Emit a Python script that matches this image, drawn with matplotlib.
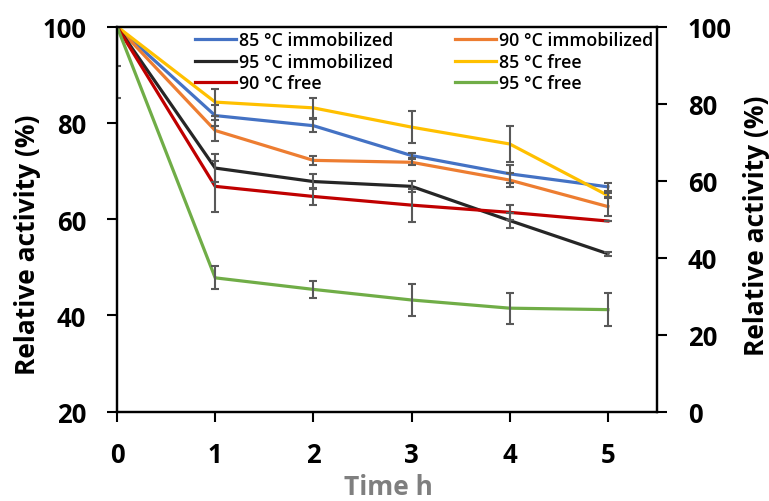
import matplotlib
matplotlib.use("Agg")
import matplotlib.pyplot as plt
from matplotlib.font_manager import FontProperties

plt.rcParams['font.family'] = ['Open Sans', 'DejaVu Sans']

time_h = [0, 1, 2, 3, 4, 5]
labels = ["85 °C immobilized", "90 °C immobilized", "95 °C immobilized",
          "85 °C free", "90 °C free", "95 °C free"]
colors = ["#4472C4", "#ED7D31", "#262626", "#FFC000", "#C00000", "#70AD47"]

imm85 = [100, 81.5, 79.4, 73.2, 69.4, 66.7]
imm90 = [100, 78.4, 72.2, 71.8, 68.1, 62.6]
imm95 = [100, 70.6, 67.8, 66.8, 59.7, 52.8]
free85 = [100, 84.3, 83.1, 79.1, 75.6, 64.9]
free90 = [100, 66.8, 64.7, 62.9, 61.4, 59.6]
free95 = [100, 47.8, 45.4, 43.2, 41.5, 41.2]

err_imm85 = [0, 2.1, 1.4, 0.6, 1.9, 0.9]
err_imm90 = [0, 2.2, 1.0, 0.6, 1.4, 2.0]
err_imm95 = [0, 2.9, 1.5, 1.2, 1.5, 0.4]
err_free85 = [8.3, 2.8, 2.1, 3.3, 3.7, 0.5]
err_free90 = [14.8, 5.3, 1.7, 3.4, 1.5, 0.0]
err_free95 = [0, 2.4, 1.8, 3.3, 3.2, 3.4]

series = [imm85, imm90, imm95, free85, free90, free95]
errors = [err_imm85, err_imm90, err_imm95, err_free85, err_free90, err_free95]

W, H = 769, 502
fig = plt.figure(figsize=(W / 100, H / 100), dpi=100)
ax = fig.add_axes([117 / W, 1 - 412.7 / H, (657 - 117) / W, (412.7 - 27.5) / H])

handles = []
for ys, es, c, lab in zip(series, errors, colors, labels):
    ln, = ax.plot(time_h, ys, color=c, lw=2.3, label=lab, zorder=3)
    ax.errorbar(time_h, ys, yerr=es, fmt='none', ecolor='#595959', elinewidth=1.5,
                capsize=3.2, capthick=1.5, zorder=4)
    handles.append(ln)

ax.set_xlim(0, 5.5)
ax.set_ylim(20, 100)
ax.set_xticks([0, 1, 2, 3, 4, 5])
ax.set_yticks([20, 40, 60, 80, 100])

tick_font = dict(family=['Open Sans', 'DejaVu Sans'], weight='bold', size=18.5)
for s in ax.spines.values():
    s.set_linewidth(1.6)
ax.tick_params(axis='both', direction='out', length=7.2, width=1.5, colors='black')
ax.tick_params(axis='y', pad=15)
ax.tick_params(axis='x', pad=14)
for t in ax.get_xticklabels() + ax.get_yticklabels():
    t.set_fontproperties(FontProperties(**tick_font))

ax2 = ax.twinx()
ax2.set_ylim(0, 100)
ax2.set_yticks([0, 20, 40, 60, 80, 100])
ax2.tick_params(axis='y', direction='out', length=7.2, width=1.5, pad=15)
for s in ax2.spines.values():
    s.set_linewidth(1.6)
for t in ax2.get_yticklabels():
    t.set_fontproperties(FontProperties(**tick_font))

leg_prop = dict(family=['Open Sans', 'DejaVu Sans'], weight='semibold', size=12.8)
leg_kw = dict(frameon=False, loc='upper left', bbox_transform=fig.transFigure,
              borderpad=0, borderaxespad=0, handlelength=2.3, handletextpad=0.15,
              labelspacing=0.19, prop=leg_prop)
col1 = [0, 2, 4]
col2 = [1, 3, 5]
leg1 = ax2.legend([handles[i] for i in col1], [labels[i] for i in col1],
                  bbox_to_anchor=(195 / W, 1 - 32.5 / H), **leg_kw)
ax2.add_artist(leg1)
leg2 = ax2.legend([handles[i] for i in col2], [labels[i] for i in col2],
                  bbox_to_anchor=(455 / W, 1 - 32.5 / H), **leg_kw)

lab_font = dict(family=['Open Sans', 'DejaVu Sans'], weight='bold', size=19)
fig.text(28 / W, 1 - 245 / H, "Relative activity (%)", rotation=90, ha='center', va='center', **lab_font)
fig.text(756 / W, 1 - 226 / H, "Relative activity (%)", rotation=90, ha='center', va='center', **lab_font)
fig.text(388 / W, 1 - 501 / H, "Time h", ha='center', va='bottom', color='#7F7F7F', **lab_font)

fig.savefig("out.png", dpi=100)
